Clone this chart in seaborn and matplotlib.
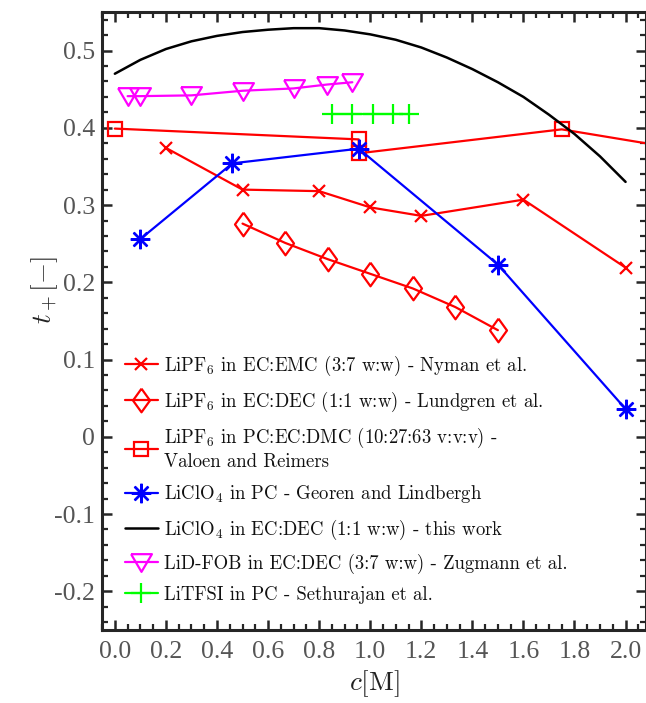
import numpy as np
import pandas as pd
import matplotlib
matplotlib.use("Agg")
import matplotlib.pyplot as plt
import seaborn as sns
from matplotlib.ticker import MultipleLocator, FixedLocator, FixedFormatter
from matplotlib.font_manager import FontProperties

# ---------------- data ----------------
nyman_c = [0.2, 0.5, 0.8, 1.0, 1.2, 1.6, 2.0]
nyman_t = [0.374, 0.320, 0.318, 0.297, 0.286, 0.307, 0.219]

lundgren_c = [0.5, 0.667, 0.833, 1.0, 1.167, 1.333, 1.5]
lundgren_t = [0.276, 0.251, 0.230, 0.211, 0.192, 0.168, 0.138]

valoen_c = [0.0, 0.955, 0.955, 1.75, 2.5]
valoen_t = [0.399, 0.385, 0.367, 0.398, 0.357]

georen_c = [0.1, 0.46, 0.955, 1.5, 2.0]
georen_t = [0.256, 0.354, 0.373, 0.223, 0.036]

work_c = [0.0, 0.1, 0.2, 0.3, 0.4, 0.5, 0.6, 0.7, 0.8, 0.9, 1.0,
          1.1, 1.2, 1.3, 1.4, 1.5, 1.6, 1.7, 1.8, 1.9, 2.0]
work_t = [0.470, 0.488, 0.502, 0.512, 0.519, 0.524, 0.527, 0.529, 0.529, 0.526, 0.521,
          0.514, 0.504, 0.491, 0.476, 0.459, 0.440, 0.417, 0.392, 0.363, 0.330]

zug_c = [0.05, 0.1, 0.3, 0.5, 0.7, 0.83, 0.93]
zug_t = [0.441, 0.441, 0.442, 0.448, 0.451, 0.456, 0.459]

seth_c = [0.85, 0.93, 1.01, 1.09, 1.15]
seth_t = [0.418, 0.418, 0.418, 0.418, 0.418]

labels = [
    r"LiPF$_6$ in EC:EMC (3:7 w:w) - Nyman et al.",
    r"LiPF$_6$ in EC:DEC (1:1 w:w) - Lundgren et al.",
    "LiPF$_6$ in PC:EC:DMC (10:27:63 v:v:v) -\nValoen and Reimers",
    r"LiClO$_4$ in PC - Georen and Lindbergh",
    r"LiClO$_4$ in EC:DEC (1:1 w:w) - this work",
    r"LiD-FOB in EC:DEC (3:7 w:w) - Zugmann et al.",
    r"LiTFSI in PC - Sethurajan et al.",
]

xticks = [0.0, 0.2, 0.4, 0.6, 0.8, 1.0, 1.2, 1.4, 1.6, 1.8, 2.0]
xticklabels = ["0.0", "0.2", "0.4", "0.6", "0.8", "1.0", "1.2", "1.4", "1.6", "1.8", "2.0"]
yticks = [-0.2, -0.1, 0.0, 0.1, 0.2, 0.3, 0.4, 0.5]
yticklabels = ["-0.2", "-0.1", "0", "0.1", "0.2", "0.3", "0.4", "0.5"]

# ---------------- style ----------------
sns.set_theme(style="white")
plt.rcParams["font.family"] = ["Liberation Serif", "DejaVu Serif"]
plt.rcParams["mathtext.fontset"] = "cm"
plt.rcParams["axes.unicode_minus"] = False

fig = plt.figure(figsize=(6.46, 7.03), dpi=100)
ax = fig.add_axes([0.158, 0.104, 0.842, 0.879])

diamond = [(0, 1), (0.72, 0), (0, -1), (-0.72, 0), (0, 1)]
tri_down = [(-1, 0.8), (1, 0.8), (0, -0.9), (-1, 0.8)]

series = [
    (nyman_c, nyman_t, "red", dict(marker="x", markersize=9, markeredgewidth=1.6)),
    (lundgren_c, lundgren_t, "red", dict(marker=diamond, markersize=17, markeredgewidth=1.6,
                                          markerfacecolor="none")),
    (valoen_c, valoen_t, "red", dict(marker="s", markersize=9.5, markeredgewidth=1.6,
                                      markerfacecolor="none")),
    (georen_c, georen_t, "blue", dict(marker=(8, 2, 0), markersize=14, markeredgewidth=1.7)),
    (work_c, work_t, "black", dict()),
    (zug_c, zug_t, "magenta", dict(marker=tri_down, markersize=15, markeredgewidth=1.6,
                                    markerfacecolor="none")),
    (seth_c, seth_t, "#00ff00", dict(marker="+", markersize=14, markeredgewidth=1.6)),
]

for (cx, ty, col, kw), lab in zip(series, labels):
    df = pd.DataFrame({"c": cx, "t": ty})
    sns.lineplot(data=df, x="c", y="t", ax=ax, color=col, sort=False, estimator=None,
                 linewidth=1.6 if col != "black" else 1.8, markeredgecolor=col,
                 label=lab, **kw)

ax.set_xlim(-0.05, 2.08)
ax.set_ylim(-0.25, 0.55)

ax.xaxis.set_major_locator(FixedLocator(xticks))
ax.xaxis.set_major_formatter(FixedFormatter(xticklabels))
ax.xaxis.set_minor_locator(MultipleLocator(0.05))
ax.yaxis.set_major_locator(FixedLocator(yticks))
ax.yaxis.set_major_formatter(FixedFormatter(yticklabels))
ax.yaxis.set_minor_locator(MultipleLocator(0.02))

spine_col = "#262626"
for s in ax.spines.values():
    s.set_linewidth(2.2)
    s.set_color(spine_col)
    s.set_visible(True)

ax.tick_params(which="both", direction="in", top=True, right=True, bottom=True, left=True,
               color=spine_col)
ax.tick_params(which="major", length=7.5, width=1.8, labelsize=18.5,
               labelcolor="#555555", labelfontfamily="Liberation Serif")
ax.tick_params(axis="y", which="major", pad=5)
ax.tick_params(axis="x", which="major", pad=8)
ax.tick_params(which="minor", length=4, width=1.6)

ax.set_xlabel(r"$c[\mathrm{M}]$", fontsize=19.5, color="#222222")
ax.set_ylabel(r"$t_+[-]$", fontsize=19.5, color="#222222")
ax.xaxis.set_label_coords(0.5, -0.062)
ax.yaxis.set_label_coords(-0.078, 0.55)

leg = ax.legend(loc="lower left", bbox_to_anchor=(0.0, 0.006), frameon=False,
                prop=FontProperties(family="cmr10", size=13.5),
                handlelength=1.8, handletextpad=0.3, labelspacing=0.64,
                borderaxespad=0.8, borderpad=0.4)
for t in leg.get_texts():
    t.set_color("#111111")
    t.set_linespacing(1.25)

fig.savefig("out.png", dpi=100)
